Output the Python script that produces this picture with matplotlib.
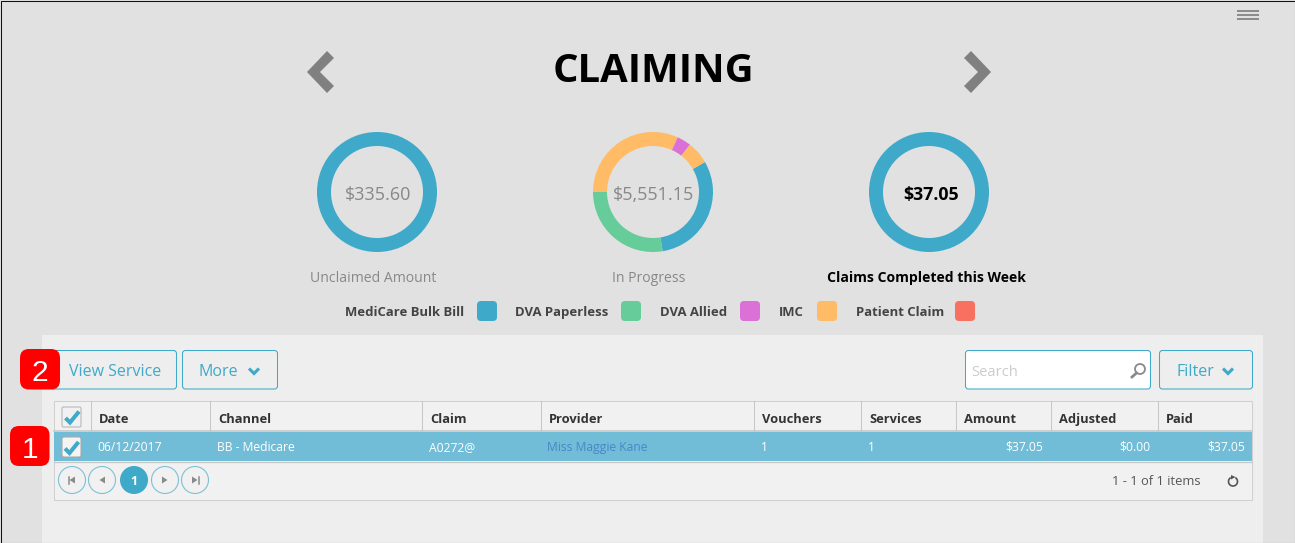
import matplotlib
matplotlib.use("Agg")
import matplotlib.pyplot as plt
from matplotlib.patches import FancyBboxPatch, Rectangle, Circle, Polygon, Arc

plt.rcParams['font.family'] = ['Open Sans', 'DejaVu Sans']

# ---- data ----
title = "CLAIMING"
categories = ["MediCare Bulk Bill", "DVA Paperless", "DVA Allied", "IMC", "Patient Claim"]
cat_colors = ["#3fa9c9", "#66cc99", "#db70d6", "#ffbb66", "#f87060"]
donut_labels = ["Unclaimed Amount", "In Progress", "Claims Completed this Week"]
donut_totals = ["$335.60", "$5,551.15", "$37.05"]
unclaimed_values = [335.60]
unclaimed_colors = ["#3fa9c9"]
progress_values = [1707, 1531, 1763, 211, 339]
progress_colors = ["#3fa9c9", "#66cc99", "#ffbb66", "#db70d6", "#ffbb66"]
completed_values = [37.05]
completed_colors = ["#3fa9c9"]
columns = ["Date", "Channel", "Claim", "Provider", "Vouchers", "Services", "Amount", "Adjusted", "Paid"]
row = ["06/12/2017", "BB - Medicare", "A0272@", "Miss Maggie Kane", "1", "1", "$37.05", "$0.00", "$37.05"]

W, H = 1295, 543
fig = plt.figure(figsize=(W / 100, H / 100), dpi=100, facecolor="#e1e1e1")
ax = fig.add_axes([0, 0, 1, 1])
ax.set_xlim(0, W)
ax.set_ylim(H, 0)
ax.axis("off")

BLUE = "#3fa9c9"


def rbox(x0, y0, x1, y1, r=3, fc="none", ec="none", lw=0.75, z=2):
    ax.add_patch(FancyBboxPatch((x0 + r, y0 + r), x1 - x0 - 2 * r, y1 - y0 - 2 * r,
                                boxstyle=f"round,pad={r},rounding_size={r}",
                                fc=fc, ec=ec, lw=lw, zorder=z))


def txt(x, y, s, size, color="#333333", weight="normal", ha="left", z=5, family=None):
    # y is the middle of the capitals; the text sits on its baseline
    base = y + 0.357 * size * 100 / 72
    kw = {"family": family} if family else {}
    ax.text(x, base, s, fontsize=size, color=color, fontweight=weight, ha=ha, va="baseline", zorder=z, **kw)


def check(x, y, z=6):
    ax.plot([x - 6.5, x - 2, x + 7], [y + 0.5, y + 5, y - 6],
            color=BLUE, lw=2.9, solid_capstyle="butt", solid_joinstyle="miter", zorder=z)


def chev(x, y, z=6, color=BLUE):
    ax.plot([x - 5, x, x + 5], [y - 2.5, y + 2.5, y - 2.5], color=color, lw=2.2,
            solid_capstyle="butt", solid_joinstyle="miter", zorder=z)


# panel
ax.add_patch(Rectangle((42, 335), 1221, 208, fc="#eeeeee", ec="none", zorder=1))
# frame
ax.add_patch(Rectangle((0.5, 0.5), W - 1, H - 1, fc="none", ec="#111111", lw=0.75, zorder=20))

# hamburger
for y in (10.5, 14.5, 18.5):
    ax.plot([1237, 1259], [y, y], color="#8a8a8a", lw=1.4, solid_capstyle="butt", zorder=3)

# title and arrows
txt(653, 68, title, 28.8, color="#000000", weight="bold", ha="center")
ax.add_patch(Polygon([(307, 72), (327, 51), (334, 58), (320, 72), (334, 86), (327, 93)], fc="#808080", ec="none", zorder=3))
ax.add_patch(Polygon([(991, 72), (971, 51), (964, 58), (978, 72), (964, 86), (971, 93)], fc="#808080", ec="none", zorder=3))

# donuts
centers = [377, 653, 929]
series = [(unclaimed_values, unclaimed_colors), (progress_values, progress_colors), (completed_values, completed_colors)]
for cx, (vals, cols) in zip(centers, series):
    cy = 192
    pad = 62
    a = fig.add_axes([(cx - pad) / W, 1 - (cy + pad) / H, 2 * pad / W, 2 * pad / H])
    a.pie(vals, colors=cols, startangle=30, counterclock=False, radius=1.0,
          wedgeprops=dict(width=14 / 60, linewidth=0))
    a.set_xlim(-pad / 60, pad / 60)
    a.set_ylim(-pad / 60, pad / 60)
    a.patch.set_visible(False)

label_x = [373, 649, 926]
for i, (cx, lx, total, lab) in enumerate(zip(centers, label_x, donut_totals, donut_labels)):
    bold = i == 2
    txt(cx + (2 if bold else 1), 193.5, total, 12.8 if bold else 13.0, color="#000000" if bold else "#888888",
        weight="bold" if bold else "normal", ha="center")
    txt(lx, 277, lab, 10.1, color="#000000" if bold else "#888888",
        weight="bold" if bold else "normal", ha="center")

# legend
legend_text_x = [345, 515, 660, 779, 856]
legend_box_x = [477, 621, 740, 817, 955]
for lx, bx, name, col in zip(legend_text_x, legend_box_x, categories, cat_colors):
    txt(lx, 311, name, 9.45, color="#444444", weight="bold")
    rbox(bx, 301, bx + 20, 321, r=4, fc=col)

# toolbar
rbox(50, 350.5, 176.5, 389, fc="#eeeeee", ec=BLUE)
txt(69, 370, "View Service", 11.5, color=BLUE)
rbox(182.5, 350.5, 277.5, 389, fc="#eeeeee", ec=BLUE)
txt(198, 370, "More", 11.5, color=BLUE)
chev(254, 371)
rbox(965.5, 350.5, 1150.5, 389, fc="#ffffff", ec=BLUE)
txt(971, 370.5, "Search", 10.6, color="#cccccc")
ax.add_patch(Circle((1140, 369), 5, fc="none", ec="#8a8a8a", lw=1.3, zorder=4))
ax.plot([1136.5, 1132], [373, 377], color="#8a8a8a", lw=2.0, zorder=4)
rbox(1159.5, 350.5, 1252.5, 389, fc="#eeeeee", ec=BLUE)
txt(1176, 370, "Filter", 11.5, color=BLUE)
chev(1228, 371)

# badges
rbox(20, 349, 60, 389.5, r=9, fc="#ff0000", z=8)
txt(40, 370, "2", 21.5, color="#ffffff", ha="center", z=9, family="Liberation Sans")
rbox(10, 426, 49.5, 466, r=9, fc="#ff0000", z=8)
txt(30, 447, "1", 21.5, color="#ffffff", ha="center", z=9, family="Liberation Sans")

# table
edges = [53.5, 90.5, 209.5, 421.5, 540.5, 753.5, 860.5, 955.5, 1050.5, 1157.5, 1252]
ax.add_patch(Rectangle((53.5, 400.5), 1198.5, 99, fc="#f1f1f1", ec="#d0d0d0", lw=0.75, zorder=2))
ax.add_patch(Rectangle((54, 432), 1198, 29, fc="#71bdd7", ec="none", zorder=3))
ax.plot([54, 1252], [431, 431], color="#c8c8c8", lw=1.2, zorder=4)
ax.plot([54, 1252], [461.5, 461.5], color="#c8c8c8", lw=0.9, zorder=4)
for e in edges[1:-1]:
    ax.plot([e, e], [401, 431], color="#c8c8c8", lw=0.75, zorder=4)
for e, c in zip(edges[1:], columns):
    txt(e + 8.5, 418.5, c, 9.3, color="#333333", weight="bold")

left_x = [97, 217, 429, 547, 761, 868]
for x, v, i in zip(left_x, row[:6], range(6)):
    txt(x, 446.5, v, 8.7, color="#4a86c8" if i == 3 else "#ffffff")
for x, v in zip([1043, 1150, 1245], row[6:]):
    txt(x, 446.5, v, 8.7, color="#ffffff", ha="right")

# checkboxes
rbox(62, 407, 81, 427, r=1.5, fc="#f1f1f1", ec="#b5b5b5", z=5)
check(72, 417.5)
rbox(62, 437, 81, 457, r=2, fc="#f4f4f4", ec="#a8a8a8", z=5)
check(71.5, 448)

# pager
pager_x = [72, 102, 134, 165, 195]
pager_sym = ["first", "prev", "1", "next", "last"]
for x, s in zip(pager_x, pager_sym):
    if s == "1":
        ax.add_patch(Circle((x, 480), 14, fc=BLUE, ec="none", zorder=4))
        txt(x - 0.5, 480.5, "1", 9, color="#ffffff", weight="bold", ha="center")
        continue
    ax.add_patch(Circle((x, 480), 13.5, fc="#f1f1f1", ec="#7dc0d6", lw=0.8, zorder=4))
    if s in ("first", "prev"):
        ax.add_patch(Polygon([(x + 3, 476.5), (x + 3, 483.5), (x - 2.5, 480)], fc="#8a8a8a", ec="none", zorder=5))
    else:
        ax.add_patch(Polygon([(x - 3, 476.5), (x - 3, 483.5), (x + 2.5, 480)], fc="#8a8a8a", ec="none", zorder=5))
    if s == "first":
        ax.plot([x - 3.5, x - 3.5], [476.5, 483.5], color="#8a8a8a", lw=1.1, zorder=5)
    if s == "last":
        ax.plot([x + 3.5, x + 3.5], [476.5, 483.5], color="#8a8a8a", lw=1.1, zorder=5)

txt(1112, 480, "1 - 1 of 1 items", 9.3, color="#555555")
ax.add_patch(Arc((1233, 481.5), 9, 9, theta1=-60, theta2=240, ec="#555555", lw=1.2, zorder=5))
ax.add_patch(Polygon([(1231, 475), (1235.5, 477), (1231, 479.5)], fc="#555555", ec="none", zorder=5))

fig.savefig("out.png", dpi=100, facecolor=fig.get_facecolor())
